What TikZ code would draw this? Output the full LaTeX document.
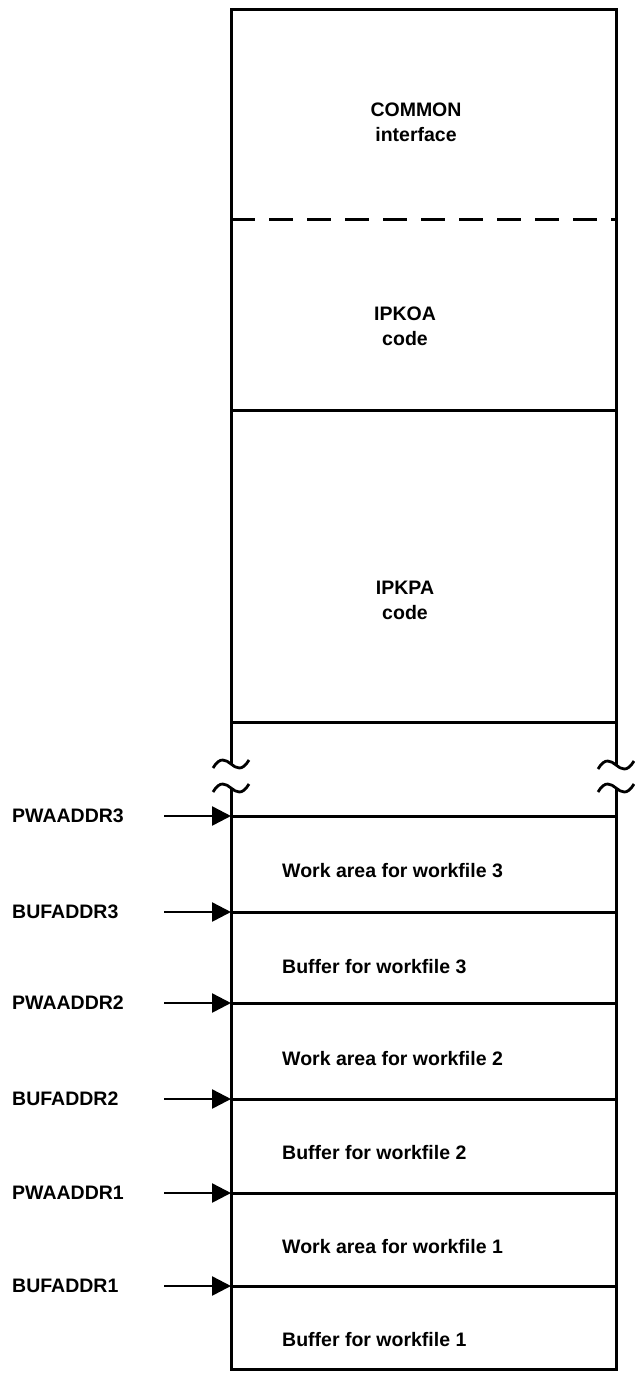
\documentclass[tikz,border=0pt]{standalone}
\usepackage{fontspec}
\setmainfont{Liberation Sans}
\usetikzlibrary{positioning, arrows.meta}

\begin{document}
\begin{tikzpicture}[x=1bp, y=-1bp,
  wall/.style={line width=3bp, line join=miter},
  brk/.style={line width=2.8bp},
  ptr/.style={-{Triangle[length=19bp, width=19bp]}, line width=2.5bp},
  lbl/.style={anchor=west, inner sep=0pt, font=\fontsize{19.5bp}{25bp}\selectfont\bfseries},
  celltxt/.style={anchor=west, inner sep=0pt, font=\fontsize{19.5bp}{25bp}\selectfont\bfseries},
  headtxt/.style={align=center, inner sep=0pt, font=\fontsize{19.5bp}{25bp}\selectfont\bfseries}
]
\useasboundingbox (0,0) rectangle (635,1376);

\draw[wall] (231,764) -- (231,10) -- (616,10) -- (616,765);
\draw[wall] (231,788) -- (231,1369) -- (616,1369) -- (616,788);
\foreach \x/\y in {231/764, 231/788, 616/765, 616/788}
  \draw[brk] (\x-18,\y+4) .. controls (\x-11,\y-8) and (\x-5,\y-4) .. (\x,\y)
             .. controls (\x+5,\y+4) and (\x+11,\y+8) .. (\x+18,\y-4);

\draw[wall, dash pattern=on 24bp off 14bp] (231,220) -- (616,220);
\foreach \y in {410,722}
  \draw[wall] (231,\y) -- (616,\y);

\node[headtxt] (common) at (416,122) {COMMON\\interface};
\node[headtxt] (ipkoa) at (405,326) {IPKOA\\code};
\node[headtxt] (ipkpa) at (405,600) {IPKPA\\code};

\foreach \n/\y/\t in {pwa3/816/PWAADDR3, buf3/912/BUFADDR3, pwa2/1003/PWAADDR2,
                      buf2/1099/BUFADDR2, pwa1/1193/PWAADDR1, buf1/1286/BUFADDR1} {
  \coordinate (\n) at (231,\y);
  \coordinate (\n-tail) at (164,\y);
  \node[lbl] (\n-lbl) at (12,\y) {\t};
  \draw[wall] (\n) -- (616,\y);
  \draw[ptr] (\n-tail) -- (\n);
}

\foreach \n/\y/\t in {wa3/871/Work area for workfile 3, bf3/967/Buffer for workfile 3,
                      wa2/1059/Work area for workfile 2, bf2/1153/Buffer for workfile 2,
                      wa1/1247/Work area for workfile 1, bf1/1340/Buffer for workfile 1}
  \node[celltxt] (\n) at (282,\y) {\t};
\end{tikzpicture}
\end{document}
